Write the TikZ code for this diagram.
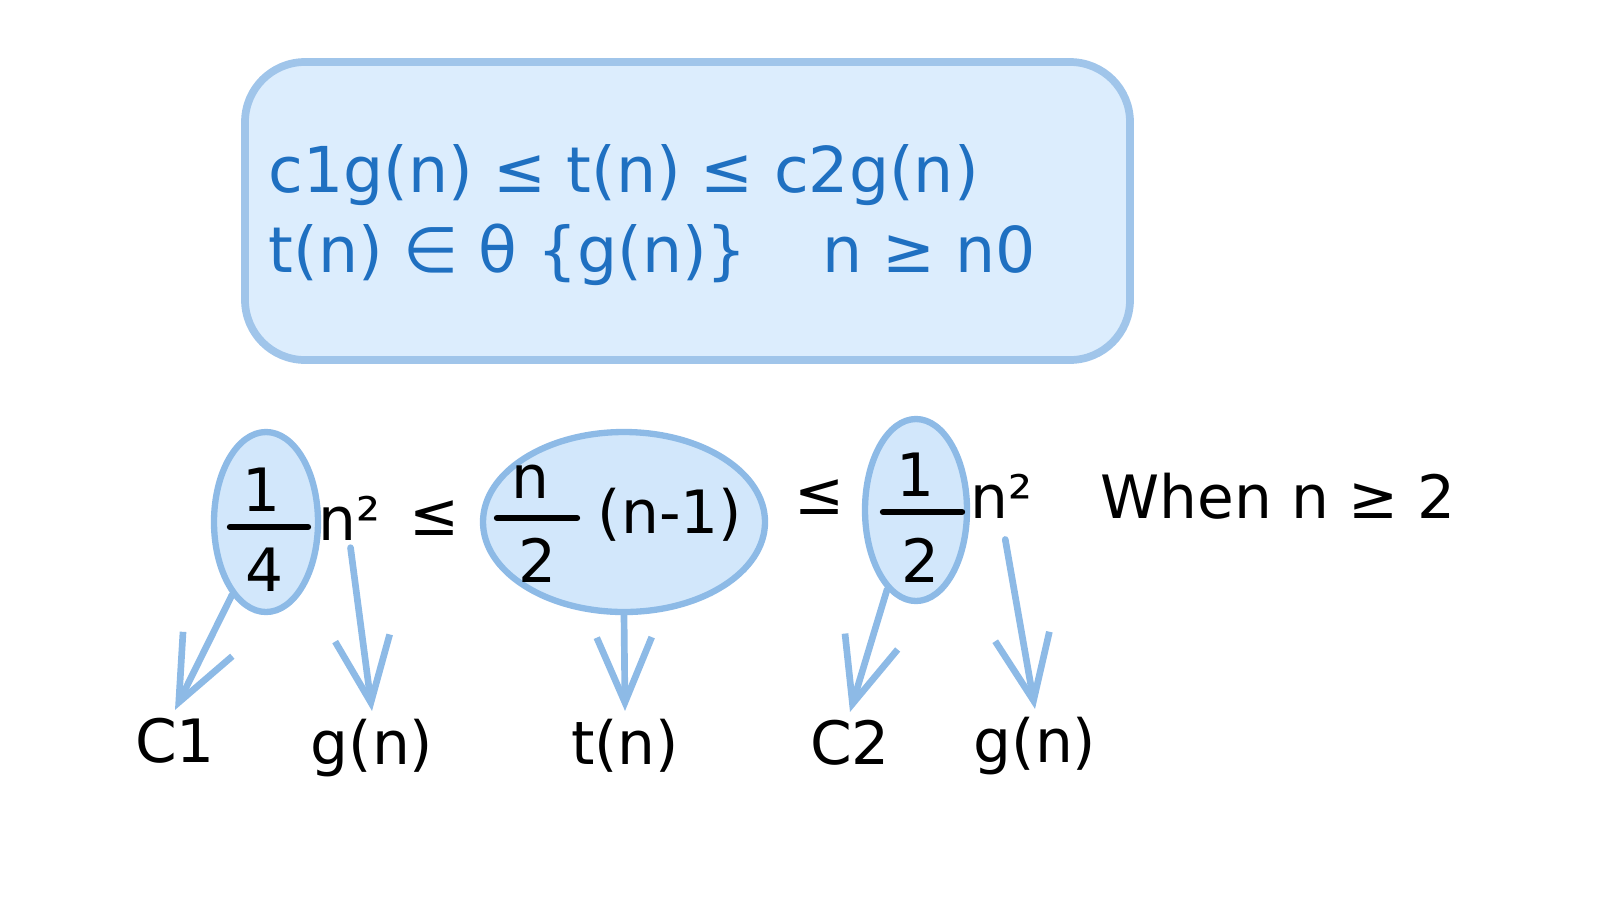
\documentclass[tikz,border=0pt]{standalone}
\usepackage{fontspec}
\setmainfont{DejaVu Sans}
\usepackage{xcolor}
\usepackage{tikz}
\usetikzlibrary{shapes.geometric,arrows.meta}

\definecolor{boxfill}{HTML}{DCEDFD}
\definecolor{boxline}{HTML}{A0C5EA}
\definecolor{defblue}{HTML}{1F70C1}
\definecolor{ovalfill}{HTML}{D2E7FB}
\definecolor{ovalline}{HTML}{8DBAE6}

\begin{document}
\begin{tikzpicture}[every node/.style={font=\fontsize{17}{20}\selectfont, inner sep=2pt},
  oval/.style={ellipse, draw=ovalline, fill=ovalfill, line width=1.8pt, inner sep=0pt},
  pointer/.style={draw=ovalline, line width=1.9pt, line cap=round,
    -{Straight Barb[length=6.5mm, width=5.5mm, line width=1.9pt]}},
  fracbar/.style={line width=1.8pt, line cap=round}]
  \useasboundingbox (0,0) rectangle (16,9.11);

  % Definition box
  \node[draw=boxline, fill=boxfill, line width=2.2pt, rounded corners=0.6cm,
        minimum width=8.85cm, minimum height=2.98cm] (defbox) at (6.875,7.0) {};
  \node[defblue, font=\fontsize{18}{21}\selectfont, anchor=base west, inner sep=0pt]
    (line1) at (2.68,7.19) {c1g(n) ≤ t(n) ≤ c2g(n)};
  \node[defblue, font=\fontsize{18}{21}\selectfont, anchor=base west, inner sep=0pt]
    (line2) at (2.68,6.39) {t(n) ∈ θ \{g(n)\}\hspace{0.75cm}n ≥ n0};

  % Ovals round the constants and t(n)
  \node[oval, minimum width=1.04cm, minimum height=1.8cm] (e1) at (2.66,3.89) {};
  \node[oval, minimum width=2.82cm, minimum height=1.8cm] (e2) at (6.24,3.89) {};
  \node[oval, minimum width=1.02cm, minimum height=1.82cm] (e3) at (9.16,4.01) {};

  % Lower bound 1/4 n^2
  \node (num1) at (2.62,4.21) {1};
  \node (den1) at (2.65,3.41) {4};
  \draw[fracbar] (2.30,3.84) -- (3.08,3.84);
  \node[anchor=base west, inner sep=0pt] (nsq1) at (3.18,3.71) {n²};
  \node (le1) at (4.35,3.93) {≤};

  % Middle term n/2 (n-1)
  \node (num2) at (5.30,4.29) {n};
  \node (den2) at (5.37,3.51) {2};
  \draw[fracbar] (4.97,3.93) -- (5.77,3.93);
  \node (nminus) at (6.70,3.96) {(n-1)};
  \node (le2) at (8.20,4.14) {≤};

  % Upper bound 1/2 n^2
  \node (num3) at (9.15,4.36) {1};
  \node (den3) at (9.20,3.51) {2};
  \draw[fracbar] (8.83,3.99) -- (9.62,3.99);
  \node[anchor=base west, inner sep=0pt] (nsq2) at (9.70,3.93) {n²};
  \node[anchor=base west, inner sep=0pt] (when) at (11.00,3.93) {When n ≥ 2};

  % Names of the parts
  \node[anchor=base] (c1) at (1.75,1.49) {C1};
  \node[anchor=base] (g1) at (3.72,1.47) {g(n)};
  \node[anchor=base] (tn) at (6.25,1.47) {t(n)};
  \node[anchor=base] (c2) at (8.50,1.47) {C2};
  \node[anchor=base] (g2) at (10.35,1.49) {g(n)};

  % Arrows from each part to its name
  \draw[pointer] (e1.245) -- (c1.north);
  \draw[pointer, shorten <=2pt] (nsq1.south) -- (g1.north);
  \draw[pointer] (e2.south) -- (tn.north);
  \draw[pointer] (e3.250) -- (c2.north);
  \draw[pointer, shorten <=6pt] (nsq2.south) -- (g2.north);
\end{tikzpicture}
\end{document}
